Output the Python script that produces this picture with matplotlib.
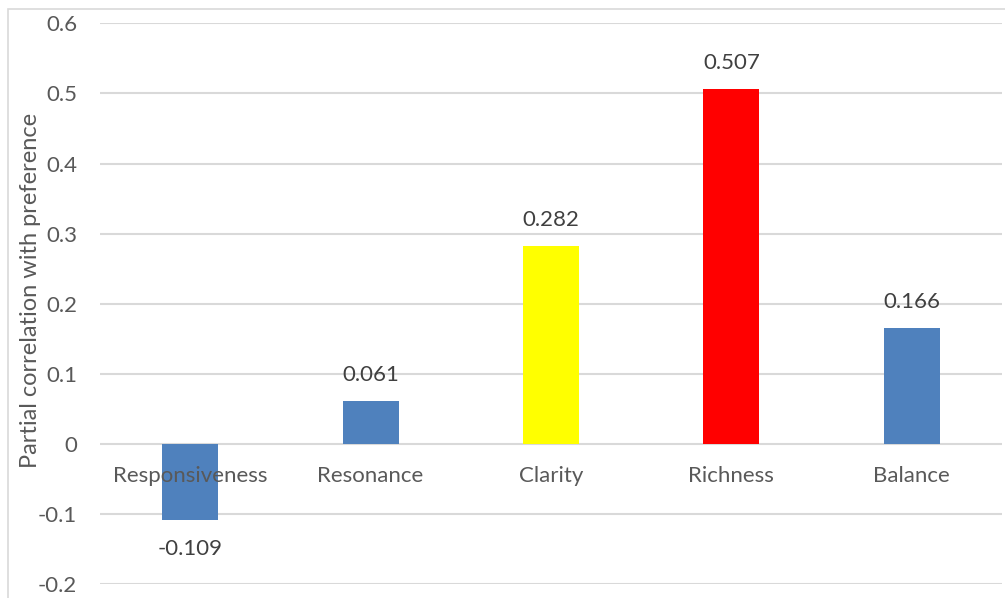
import matplotlib
matplotlib.use('Agg')
import matplotlib.pyplot as plt
import matplotlib.patches as patches

# Datos
categorias = ['Responsiveness', 'Resonance', 'Clarity', 'Richness', 'Balance']
valores = [-0.109, 0.061, 0.282, 0.507, 0.166]
colores = ['#4F81BD', '#4F81BD', '#FFFF00', '#FF0000', '#4F81BD']
etiquetas = ['-0.109', '0.061', '0.282', '0.507', '0.166']
yticks = [-0.2, -0.1, 0, 0.1, 0.2, 0.3, 0.4, 0.5, 0.6]
ytick_labels = ['-0.2', '-0.1', '0', '0.1', '0.2', '0.3', '0.4', '0.5', '0.6']

plt.rcParams['font.family'] = ['Lato', 'DejaVu Sans']
gris = '#595959'

fig = plt.figure(figsize=(10.05, 5.98), dpi=100)
ax = fig.add_axes([0.0995, 0.0234, 0.8975, 0.9375])

# Borde del área del gráfico
fig.patches.append(patches.Rectangle((8 / 1005, -0.1), 1.2, 1 - 9 / 598 + 0.1,
                                     transform=fig.transFigure, fill=False,
                                     edgecolor='#D9D9D9', linewidth=1.2))

x = list(range(len(categorias)))
ax.bar(x, valores, width=0.31, color=colores, zorder=3)

ax.set_xlim(-0.5, len(categorias) - 0.5)
ax.set_ylim(-0.2, 0.6)
ax.set_yticks(yticks)
ax.set_yticklabels(ytick_labels)
ax.tick_params(axis='y', length=0, pad=16.5, labelsize=16, labelcolor=gris)
ax.set_xticks([])
for s in ax.spines.values():
    s.set_visible(False)
ax.grid(axis='y', color='#D9D9D9', linewidth=1.5, zorder=0)

# Etiquetas de categoría justo bajo el eje cero
for xi, cat in zip(x, categorias):
    ax.annotate(cat, (xi, 0), xytext=(0, -32), textcoords='offset pixels',
                ha='center', va='center', fontsize=16, color=gris, zorder=4)

# Etiquetas de valor
for xi, v, lab in zip(x, valores, etiquetas):
    off = 26 if v >= 0 else -29
    ax.annotate(lab, (xi, v), xytext=(0, off), textcoords='offset pixels',
                ha='center', va='center', fontsize=16, color='#404040', zorder=4)

# Título del eje Y
fig.text(31 / 1005, 1 - 290 / 598, 'Partial correlation with preference',
         rotation=90, ha='center', va='center', fontsize=17, color=gris)

fig.savefig('out.png', dpi=100)
